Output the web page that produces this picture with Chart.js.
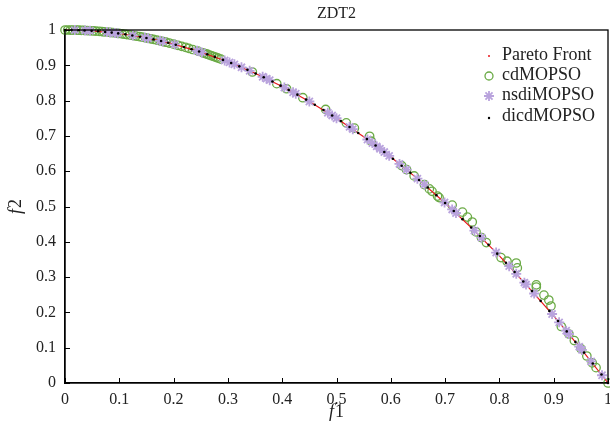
<!DOCTYPE html>
<html>
<head>
<meta charset="utf-8">
<script src="https://cdn.jsdelivr.net/npm/chart.js@4/dist/chart.umd.min.js"></script>
<style>
  html, body { margin: 0; padding: 0; background: #fff; }
  #wrap { width: 610px; height: 437px; }
</style>
</head>
<body>
<div id="wrap"><canvas id="zdt2Chart" width="610" height="437"></canvas></div>
<script>
// tick labels
const xTickValues = [0, 0.1, 0.2, 0.3, 0.4, 0.5, 0.6, 0.7, 0.8, 0.9, 1];
const xTickLabels = ["0", "0.1", "0.2", "0.3", "0.4", "0.5", "0.6", "0.7", "0.8", "0.9", "1"];
const yTickValues = [0, 0.1, 0.2, 0.3, 0.4, 0.5, 0.6, 0.7, 0.8, 0.9, 1];
const yTickLabels = ["0", "0.1", "0.2", "0.3", "0.4", "0.5", "0.6", "0.7", "0.8", "0.9", "1"];

// Pareto Front (red line)
const frontF1 = [0, 0.05, 0.1, 0.15, 0.2, 0.25, 0.3, 0.35, 0.4, 0.45, 0.5, 0.55, 0.6, 0.65, 0.7, 0.75, 0.8, 0.85, 0.9, 0.95, 1];
const frontF2 = [1, 0.9975, 0.99, 0.9775, 0.96, 0.9375, 0.91, 0.8775, 0.84, 0.7975, 0.75, 0.6975, 0.64, 0.5775, 0.51, 0.4375, 0.36, 0.2775, 0.19, 0.0975, 0];

// cdMOPSO (green circles)
const cdF1 = [0.000, 0.010, 0.020, 0.030, 0.041, 0.052, 0.063, 0.072, 0.083, 0.094, 0.105, 0.114, 0.126, 0.137, 0.148, 0.158, 0.169, 0.181, 0.192, 0.208, 0.222, 0.235, 0.254, 0.262, 0.270, 0.278, 0.287,
  0.005, 0.015, 0.025, 0.035, 0.046, 0.057, 0.068, 0.078, 0.088, 0.099, 0.110, 0.120, 0.131, 0.142, 0.153, 0.163, 0.175, 0.186, 0.200, 0.215, 0.228, 0.245, 0.258, 0.266, 0.274, 0.282,
  0.345, 0.390, 0.408, 0.438, 0.480, 0.518, 0.533, 0.561, 0.564, 0.620, 0.629, 0.643, 0.662, 0.671, 0.676, 0.686, 0.689,
  0.713, 0.732, 0.741, 0.750, 0.757, 0.767, 0.776, 0.803, 0.814, 0.831, 0.833, 0.868, 0.868, 0.882, 0.891, 0.895,
  0.914, 0.928, 0.938, 0.950, 0.961, 0.971, 0.978, 1.000];
const cdF2 = [1.000, 0.9999, 0.9996, 0.9991, 0.9983, 0.9973, 0.9960, 0.9948, 0.9931, 0.9912, 0.9890, 0.9870, 0.9841, 0.9812, 0.9781, 0.9750, 0.9714, 0.9672, 0.9631, 0.9567, 0.9507, 0.9448, 0.9355, 0.9314, 0.9271, 0.9227, 0.9176,
  1.0000, 0.9998, 0.9994, 0.9988, 0.9979, 0.9968, 0.9954, 0.9939, 0.9923, 0.9902, 0.9879, 0.9856, 0.9828, 0.9798, 0.9766, 0.9734, 0.9694, 0.9654, 0.9600, 0.9538, 0.9480, 0.9400, 0.9334, 0.9292, 0.9249, 0.9205,
  0.8810, 0.8479, 0.8335, 0.8082, 0.7750, 0.7370, 0.7220, 0.6990, 0.6850, 0.6156, 0.6044, 0.5866, 0.5618, 0.5498, 0.5430, 0.5294, 0.5253,
  0.5040, 0.4840, 0.4700, 0.4560, 0.4280, 0.4117, 0.3978, 0.3552, 0.3450, 0.3400, 0.3260, 0.2780, 0.2720, 0.2490, 0.2350, 0.2180,
  0.1600, 0.1388, 0.1202, 0.0975, 0.0765, 0.0571, 0.0435, 0.0000];

// nsdiMOPSO (purple asterisks)
const nsdiF1 = [0.018, 0.037, 0.046, 0.077, 0.083, 0.092, 0.097, 0.125, 0.147, 0.153, 0.175, 0.180, 0.202, 0.243, 0.252, 0.294, 0.303, 0.312, 0.325, 0.340,
  0.364, 0.371, 0.377, 0.404, 0.420, 0.425, 0.450, 0.484, 0.492, 0.500, 0.524, 0.530, 0.557, 0.566, 0.574, 0.580, 0.588, 0.597, 0.616, 0.629,
  0.649, 0.662, 0.699, 0.713, 0.720, 0.754, 0.767, 0.794, 0.818, 0.831, 0.846, 0.849, 0.864, 0.897, 0.910, 0.923, 0.928, 0.947, 0.952, 0.969, 0.989];
const nsdiF2 = [0.9997, 0.9986, 0.9979, 0.9941, 0.9931, 0.9915, 0.9906, 0.9844, 0.9784, 0.9766, 0.9694, 0.9676, 0.9592, 0.9410, 0.9365, 0.9136, 0.9082, 0.9027, 0.8944, 0.8844,
  0.8675, 0.8624, 0.8579, 0.8368, 0.8236, 0.8194, 0.7975, 0.7657, 0.7579, 0.7500, 0.7254, 0.7191, 0.6898, 0.6796, 0.6705, 0.6636, 0.6543, 0.6436, 0.6205, 0.6044,
  0.5788, 0.5618, 0.5114, 0.4916, 0.4816, 0.4315, 0.4117, 0.3696, 0.3309, 0.3094, 0.2843, 0.2792, 0.2535, 0.1954, 0.1719, 0.1481, 0.1388, 0.1032, 0.0937, 0.0610, 0.0219];

// dicdMOPSO (black dots)
const dicdF1 = [0.000, 0.012, 0.025, 0.036, 0.049, 0.061, 0.074, 0.086, 0.098, 0.111, 0.124, 0.138, 0.150, 0.163, 0.177, 0.190, 0.204, 0.219, 0.233, 0.247,
  0.262, 0.276, 0.291, 0.306, 0.321, 0.336, 0.351, 0.366, 0.382, 0.397, 0.412, 0.428, 0.444, 0.460, 0.476, 0.492, 0.508, 0.524, 0.540, 0.556,
  0.572, 0.588, 0.604, 0.620, 0.636, 0.652, 0.668, 0.684, 0.700, 0.716, 0.732, 0.748, 0.764, 0.780, 0.796, 0.812, 0.828, 0.844, 0.860, 0.876,
  0.892, 0.908, 0.924, 0.940, 0.956, 0.972, 0.988, 1.000];
const dicdF2 = [1.000, 0.9999, 0.9994, 0.9987, 0.9976, 0.9963, 0.9945, 0.9926, 0.9904, 0.9877, 0.9846, 0.9810, 0.9775, 0.9734, 0.9687, 0.9639, 0.9584, 0.9520, 0.9457, 0.9390,
  0.9314, 0.9238, 0.9153, 0.9064, 0.8970, 0.8871, 0.8768, 0.8660, 0.8541, 0.8424, 0.8303, 0.8168, 0.8029, 0.7884, 0.7734, 0.7579, 0.7419, 0.7254, 0.7084, 0.6909,
  0.6728, 0.6543, 0.6352, 0.6156, 0.5955, 0.5749, 0.5538, 0.5321, 0.5100, 0.4873, 0.4642, 0.4405, 0.4163, 0.3916, 0.3664, 0.3407, 0.3144, 0.2877, 0.2604, 0.2326,
  0.2043, 0.1755, 0.1462, 0.1164, 0.0861, 0.0552, 0.0239, 0.0000];

const seriesNames = ["Pareto Front", "cdMOPSO", "nsdiMOPSO", "dicdMOPSO"];

const serif = '"Liberation Serif", "Times New Roman", serif';
const textColor = "#222";
const green = "#6aaa45";
const purple = "#b9a3dd";
const red = "#e8161b";

function pts(xs, ys) {
  return xs.map((x, i) => ({ x: x, y: ys[i] }));
}

const noPad = () => ({ left: 0, top: 0, right: 0, bottom: 0 });

// inward ticks, box, title, axis titles, legend
const decorations = {
  id: "decorations",
  afterDraw(chart) {
    const ctx = chart.ctx;
    const a = chart.chartArea;
    const xs = chart.scales.x;
    const ys = chart.scales.y;
    ctx.save();
    ctx.strokeStyle = "#000";
    ctx.lineWidth = 1.3;
    ctx.strokeRect(a.left, a.top, a.right - a.left, a.bottom - a.top);
    ctx.beginPath();
    xTickValues.forEach((v) => {
      const px = Math.round(xs.getPixelForValue(v)) + 0.5;
      ctx.moveTo(px, a.bottom);
      ctx.lineTo(px, a.bottom - 5);
    });
    yTickValues.forEach((v) => {
      const py = Math.round(ys.getPixelForValue(v)) + 0.5;
      ctx.moveTo(a.left, py);
      ctx.lineTo(a.left + 5, py);
    });
    ctx.lineWidth = 1;
    ctx.stroke();

    // title
    ctx.fillStyle = textColor;
    ctx.font = "16px " + serif;
    ctx.textAlign = "center";
    ctx.textBaseline = "middle";
    ctx.fillText("ZDT2", (a.left + a.right) / 2, 14);

    // axis titles: italic f + upright digit
    function mixed(label, digit, cx, cy, rot) {
      ctx.save();
      ctx.translate(cx, cy);
      ctx.rotate(rot);
      ctx.textAlign = "left";
      ctx.textBaseline = "middle";
      ctx.font = "italic 18px " + serif;
      const w1 = ctx.measureText(label).width + 1;
      ctx.font = "18px " + serif;
      const w2 = ctx.measureText(digit).width;
      const x0 = -(w1 + w2) / 2;
      ctx.font = "italic 18px " + serif;
      ctx.fillText(label, x0, 0);
      ctx.font = "18px " + serif;
      ctx.fillText(digit, x0 + w1, 0);
      ctx.restore();
    }
    mixed("f", "1", (a.left + a.right) / 2, 412, 0);
    mixed("f", "2", 16, (a.top + a.bottom) / 2, -Math.PI / 2);

    // legend
    const mx = 489, tx = 502;
    const rows = [55, 75, 95, 116];
    ctx.font = "18px " + serif;
    ctx.textAlign = "left";
    ctx.textBaseline = "middle";
    seriesNames.forEach((name, i) => {
      const y = rows[i];
      ctx.fillStyle = textColor;
      ctx.fillText(name, tx, y);
      ctx.beginPath();
      if (i === 0) {
        ctx.fillStyle = red;
        ctx.arc(mx, y + 1, 1, 0, Math.PI * 2);
        ctx.fill();
      } else if (i === 1) {
        ctx.strokeStyle = green;
        ctx.lineWidth = 1.3;
        ctx.arc(mx, y + 1, 4, 0, Math.PI * 2);
        ctx.stroke();
      } else if (i === 2) {
        ctx.strokeStyle = purple;
        ctx.lineWidth = 1.8;
        for (let k = 0; k < 4; k++) {
          const ang = k * Math.PI / 4;
          ctx.moveTo(mx + Math.cos(ang) * 5, y + 1 + Math.sin(ang) * 5);
          ctx.lineTo(mx - Math.cos(ang) * 5, y + 1 - Math.sin(ang) * 5);
        }
        ctx.stroke();
      } else {
        ctx.fillStyle = "#000";
        ctx.arc(mx, y + 2, 1.2, 0, Math.PI * 2);
        ctx.fill();
      }
    });
    ctx.restore();
  },
};

const ctx = document.getElementById("zdt2Chart");
new Chart(ctx, {
  type: "scatter",
  data: {
    datasets: [
      {
        label: seriesNames[3],
        data: pts(dicdF1, dicdF2),
        pointRadius: 1.3,
        pointBackgroundColor: "#000",
        pointBorderWidth: 0,
        clip: false,
        order: 0,
      },
      {
        label: seriesNames[2],
        data: pts(nsdiF1, nsdiF2),
        pointStyle: "star",
        pointRadius: 5,
        pointBorderColor: purple,
        pointBorderWidth: 1.8,
        clip: false,
        order: 1,
      },
      {
        label: seriesNames[0],
        data: pts(frontF1, frontF2),
        showLine: true,
        borderColor: red,
        borderWidth: 1.2,
        pointRadius: 0,
        clip: false,
        order: 2,
      },
      {
        label: seriesNames[1],
        data: pts(cdF1, cdF2),
        pointStyle: "circle",
        pointRadius: 4.2,
        pointBorderColor: green,
        pointBackgroundColor: "rgba(0,0,0,0)",
        pointBorderWidth: 1.3,
        clip: false,
        order: 3,
      },
    ],
  },
  options: {
    responsive: false,
    animation: false,
    devicePixelRatio: 1,
    layout: { autoPadding: false, padding: { top: 30, right: 2, left: 0, bottom: 0 } },
    plugins: {
      legend: { display: false },
      title: { display: false },
      tooltip: { enabled: false },
    },
    scales: {
      x: {
        type: "linear",
        min: 0,
        max: 1,
        afterBuildTicks: (s) => { s.ticks = xTickValues.map((v) => ({ value: v })); },
        afterFit: (s) => {
          s.height = 54;
          s.paddingLeft = 0;
          s.paddingRight = 0;
          s.getPadding = noPad;
        },
        grid: { display: false, drawTicks: false },
        border: { display: true, color: "#000", width: 1.3 },
        ticks: {
          padding: 7,
          color: textColor,
          font: { family: serif, size: 16 },
          autoSkip: false,
          maxRotation: 0,
          callback: (v, i) => xTickLabels[i],
        },
      },
      y: {
        type: "linear",
        min: 0,
        max: 1,
        afterBuildTicks: (s) => { s.ticks = yTickValues.map((v) => ({ value: v })); },
        afterFit: (s) => { s.width = 65; },
        grid: { display: false, drawTicks: false },
        border: { display: true, color: "#000", width: 1.3 },
        ticks: {
          padding: 9,
          color: textColor,
          font: { family: serif, size: 16 },
          autoSkip: false,
          callback: (v, i) => yTickLabels[i],
        },
      },
    },
  },
  plugins: [decorations],
});
</script>
</body>
</html>
